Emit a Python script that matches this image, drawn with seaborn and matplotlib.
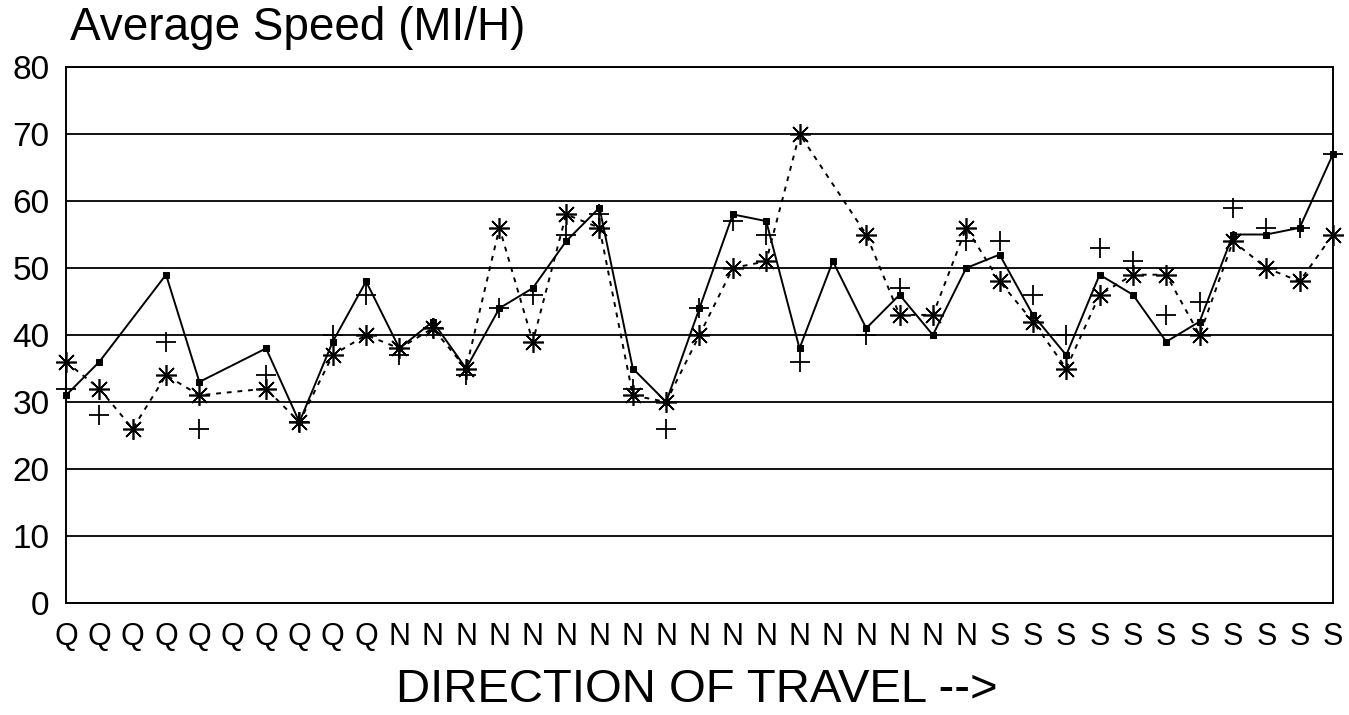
import numpy as np
import pandas as pd
import matplotlib
matplotlib.use('Agg')
import matplotlib.pyplot as plt
import seaborn as sns

nan = np.nan

# direction of each count station along the route
directions = ['Q'] * 10 + ['N'] * 18 + ['S'] * 11

# average speeds (mi/h), nan = no reading
solid_speed = [31, 36, nan, 49, 33, nan, 38, 27, 39, 48, 38, 42, 35, 44, 47, 54, 59, 35, 30, 44,
               58, 57, 38, 51, 41, 46, 40, 50, 52, 43, 37, 49, 46, 39, 42, 55, 55, 56, 67]
star_speed = [36, 32, 26, 34, 31, nan, 32, 27, 37, 40, 38, 41, 35, 56, 39, 58, 56, 31, 30, 40,
              50, 51, 70, nan, 55, 43, 43, 56, 48, 42, 35, 46, 49, 49, 40, 54, 50, 48, 55]
plus_speed = [32, 28, nan, 39, 26, nan, 34, 27, 40, 46, 37, 41, 34, 44, 46, 55, 58, 32, 26, 44,
              57, 55, 36, nan, 40, 47, nan, 54, 54, 46, 40, 53, 51, 43, 45, 59, 56, 56, 67]

df = pd.DataFrame({'pos': np.arange(len(directions)), 'dir': directions,
                   'solid': solid_speed, 'star': star_speed, 'plus': plus_speed})

sns.set_style('white')
plt.rcParams['font.family'] = ['Liberation Sans', 'DejaVu Sans']
plt.rcParams['text.color'] = 'black'
plt.rcParams['xtick.color'] = 'black'
plt.rcParams['ytick.color'] = 'black'

W, H = 1349, 715
fig = plt.figure(figsize=(W / 100, H / 100), dpi=100)
ax = fig.add_axes([66 / W, 1 - 603 / H, (1333 - 66) / W, (603 - 67) / H])

ax.yaxis.grid(True, color='black', lw=1.3)
ax.set_axisbelow(True)

d = df.dropna(subset=['star'])
sns.lineplot(data=d, x='pos', y='star', ax=ax, color='black', lw=1.4, ls=(0, (2.5, 3)),
             marker=(8, 2, 0), markersize=15, mew=1.2, mec='black', mfc='black',
             estimator=None, sort=False, clip_on=False)

d = df.dropna(subset=['solid'])
sns.lineplot(data=d, x='pos', y='solid', ax=ax, color='black', lw=1.4,
             marker='s', markersize=4.5, mec='black', mfc='black',
             estimator=None, sort=False, clip_on=False)

d = df.dropna(subset=['plus'])
sns.scatterplot(data=d, x='pos', y='plus', ax=ax, color='black', marker='+',
                s=200, linewidth=1.3, clip_on=False)

ax.set_xlim(0, len(directions) - 1)
ax.set_ylim(0, 80)
ax.set_yticks(range(0, 81, 10))
ax.set_xticks(df['pos'])
ax.set_xticklabels(df['dir'], fontsize=22)
ax.tick_params(axis='x', direction='in', length=10, width=1.4, color='black', pad=14)
ax.tick_params(axis='y', length=0, pad=12, labelsize=24)
ax.set_xlabel('')
ax.set_ylabel('')
for side in ['left', 'bottom', 'right', 'top']:
    ax.spines[side].set_visible(True)
    ax.spines[side].set_color('black')
    ax.spines[side].set_linewidth(1.4)

fig.text(70 / W, 1 - 40 / H, 'Average Speed (MI/H)', fontsize=33, va='baseline', ha='left')
fig.text(697 / W, 1 - 690 / H, 'DIRECTION OF TRAVEL -->', fontsize=34, va='center', ha='center')

fig.savefig('out.png', dpi=100, facecolor='white')
